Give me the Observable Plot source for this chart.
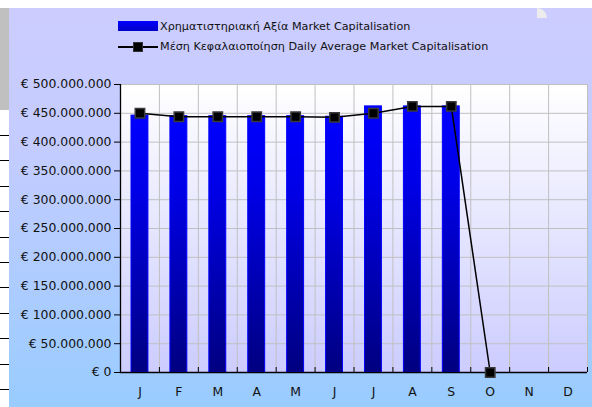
<!DOCTYPE html>
<html>
<head>
<meta charset="utf-8">
<script src="https://cdn.jsdelivr.net/npm/d3@7"></script>
<script src="https://cdn.jsdelivr.net/npm/@observablehq/plot@0.6"></script>
<style>
  html, body { margin: 0; padding: 0; background: #ffffff; }
  body { width: 592px; height: 407px; position: relative; overflow: hidden; font-family: "DejaVu Sans", sans-serif; }
  #strip { position: absolute; left: 0; top: 8px; width: 9px; height: 102px; background: #c0c0c0; }
  .cell { position: absolute; left: 0; width: 9px; height: 1px; background: #000; }
  #panel { position: absolute; left: 9px; top: 8px; width: 583px; height: 399px;
           background: linear-gradient(to bottom, #ccccff 0%, #c4ccff 35%, #99ccff 100%); }
  #curl { position: absolute; left: 537px; top: 8px; width: 10px; height: 10px; background: #ececec; border-top-right-radius: 10px; }
  #chart { position: absolute; left: 0; top: 0; }
  #legend { position: absolute; left: 0; top: 0; width: 592px; height: 60px; font-size: 11.2px; color: #111; }
  .lrow { position: absolute; left: 160px; white-space: nowrap; line-height: 14px; }
  #sw1 { position: absolute; left: 118px; top: 21px; width: 40px; height: 10px; background: linear-gradient(#0000ff, #0000c8); }
  #sw2line { position: absolute; left: 118px; top: 46px; width: 40px; height: 2px; background: #000; }
  #sw2mark { position: absolute; left: 133px; top: 42px; width: 8px; height: 8px; background: #000; border: 1px solid #333; }
</style>
</head>
<body>
<div id="strip"></div>
<div id="cells"></div>
<div id="panel"></div>
<div id="curl"></div>
<div id="chart"></div>
<div id="legend">
  <div id="sw1"></div>
  <div class="lrow" id="lt1" style="top:20px"></div>
  <div id="sw2line"></div>
  <div id="sw2mark"></div>
  <div class="lrow" id="lt2" style="top:40px"></div>
</div>
<script>
// ---- data ----
const months = ["J", "F", "M", "A", "M", "J", "J", "A", "S", "O", "N", "D"];
const marketCap = [446e6, 445e6, 445e6, 445e6, 445e6, 444e6, 462e6, 462e6, 462e6];
const dailyAvg = [450e6, 444e6, 444e6, 444e6, 444e6, 443e6, 450e6, 462e6, 462e6, 0];
const yTicks = [0, 50e6, 100e6, 150e6, 200e6, 250e6, 300e6, 350e6, 400e6, 450e6, 500e6];
const seriesNames = ["Χρηματιστηριακή Αξία Market Capitalisation", "Μέση Κεφαλαιοποίηση Daily Average Market Capitalisation"];

document.getElementById("lt1").textContent = seriesNames[0];
document.getElementById("lt2").textContent = seriesNames[1];

// decorative spreadsheet cell borders on the left edge
const cells = document.getElementById("cells");
for (let k = 0; k < 11; k++) {
  const d = document.createElement("div");
  d.className = "cell";
  d.style.top = (135 + k * 25.4).toFixed(1) + "px";
  cells.appendChild(d);
}

const monthIdx = months.map((m, i) => i);
const bounds = d3.range(0, months.length + 1);
const fmtEuro = v => "€ " + d3.format(",")(v).replace(/,/g, ".");

const defs = () => {
  const ns = "http://www.w3.org/2000/svg";
  const g = document.createElementNS(ns, "defs");
  g.innerHTML = `
    <linearGradient id="plotBg" x1="0" y1="0" x2="0" y2="1">
      <stop offset="0" stop-color="#ffffff"/>
      <stop offset="1" stop-color="#ccccff"/>
    </linearGradient>
    <linearGradient id="barGrad" x1="0" y1="0" x2="0" y2="1">
      <stop offset="0" stop-color="#0000ff"/>
      <stop offset="0.3" stop-color="#0000e6"/>
      <stop offset="1" stop-color="#000080"/>
    </linearGradient>`;
  return g;
};

const chart = Plot.plot({
  width: 592,
  height: 407,
  marginLeft: 120,
  marginRight: 5,
  marginTop: 84,
  marginBottom: 35,
  style: { background: "transparent", fontFamily: "DejaVu Sans, sans-serif", fontSize: "12.4px", color: "#111", overflow: "visible" },
  x: { domain: [0, months.length], axis: null },
  y: { domain: [0, 500e6], axis: null },
  marks: [
    defs,
    Plot.frame({ fill: "url(#plotBg)", stroke: null }),
    Plot.ruleY(yTicks, { stroke: "#c0c0c0", strokeOpacity: 1 }),
    Plot.ruleX(bounds, { stroke: "#c0c0c0", strokeOpacity: 1 }),
    Plot.rectY(marketCap, {
      x1: (d, i) => i, x2: (d, i) => i + 1, y: d => d,
      insetLeft: 11, insetRight: 11,
      fill: "url(#barGrad)", stroke: "#0000ff", strokeWidth: 1
    }),
    Plot.ruleX([0], { stroke: "#000", strokeWidth: 1.3 }),
    Plot.ruleY([0], { stroke: "#000", strokeWidth: 1.3 }),
    Plot.axisY(yTicks, { anchor: "left", tickSize: 6, tickPadding: 3, tickFormat: fmtEuro, stroke: "#000", fill: "#111" }),
    Plot.axisX(bounds, { anchor: "bottom", tickSize: -5, tickFormat: () => "", stroke: "#000" }),
    Plot.axisX(monthIdx.map(i => i + 0.5), { anchor: "bottom", tickSize: 0, tickPadding: 15, tickFormat: v => months[Math.floor(v)], fill: "#111" }),
    Plot.line(dailyAvg, { x: (d, i) => i + 0.5, y: d => d, stroke: "#000", strokeWidth: 1.5 }),
    Plot.dot(dailyAvg, { x: (d, i) => i + 0.5, y: d => d, symbol: "square", r: 5.3, fill: "#000", stroke: "#3a3a3a", strokeWidth: 1.5 })
  ]
});
document.getElementById("chart").appendChild(chart);
</script>
</body>
</html>
